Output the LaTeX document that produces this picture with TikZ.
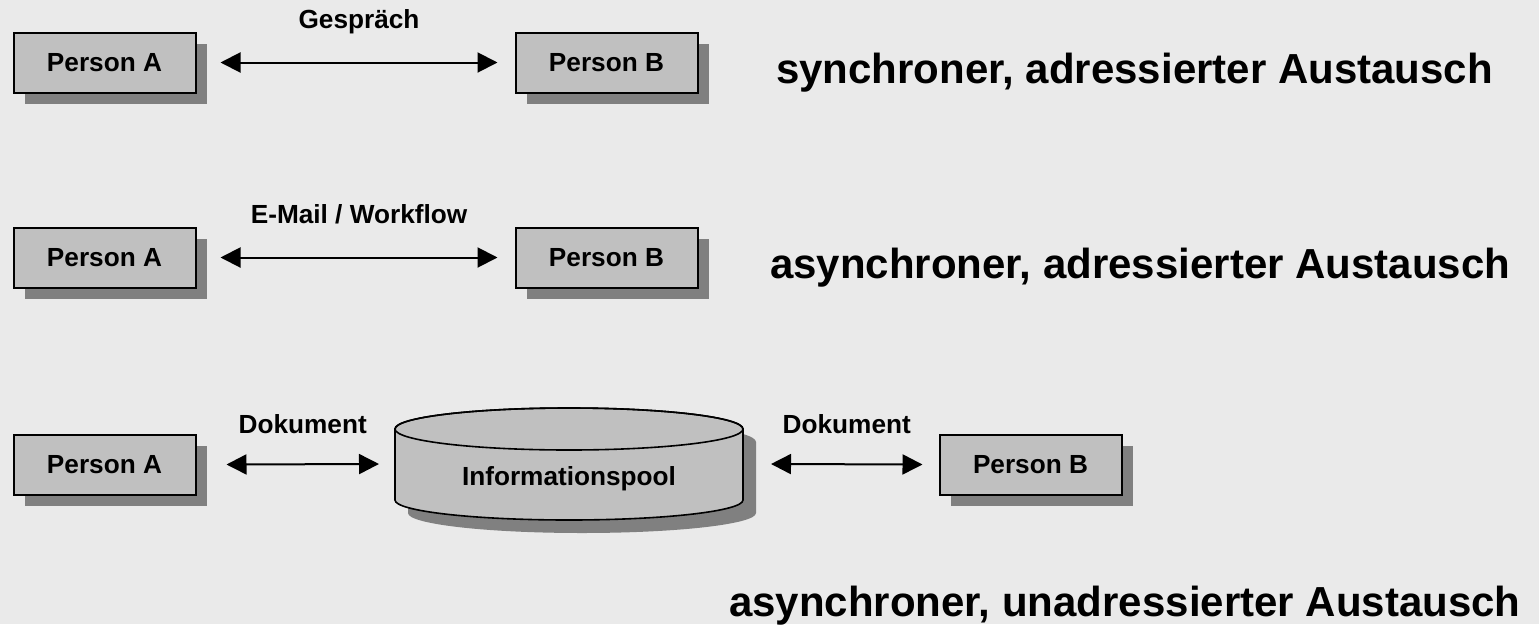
\documentclass[tikz,border=0pt]{standalone}
\usepackage{fontspec}
\setmainfont{Liberation Sans}
\usetikzlibrary{arrows.meta,shadows}
\definecolor{bggray}{HTML}{EAEAEA}
\definecolor{boxgray}{HTML}{C0C0C0}
\definecolor{shadowgray}{HTML}{808080}
\tikzstyle{person}=[rectangle,draw=black,line width=2pt,fill=boxgray,minimum width=182pt,minimum height=60pt,inner sep=0pt,font=\bfseries\fontsize{26.2}{30}\selectfont,drop shadow={shadow xshift=11pt,shadow yshift=-11pt,fill=shadowgray,opacity=1}]
\tikzstyle{link}=[draw,line width=2pt,{Triangle[length=20pt,width=20pt]}-{Triangle[length=20pt,width=20pt]}]
\tikzstyle{lbl}=[font=\bfseries\fontsize{26.2}{30}\selectfont,anchor=base,inner sep=0pt]
\tikzstyle{kind}=[font=\bfseries\fontsize{42}{48}\selectfont,anchor=base west,inner sep=0pt]

\begin{document}
\begin{tikzpicture}[x=1pt,y=-1pt]
    % Background
    \fill[bggray] (0,0) rectangle (1539,624);
    \useasboundingbox (0,0) rectangle (1539,624);
    % First we draw the persons
    \foreach \pos/\name/\txt in {{(104.5,62.5)/a1/Person A}, {(606.5,62.5)/b1/Person B},
        {(104.5,257.5)/a2/Person A}, {(606.5,257.5)/b2/Person B},
        {(104.5,464.5)/a3/Person A}, {(1030.5,464.5)/b3/Person B}}
        \node[person] (\name) at \pos {\txt};
    % Information pool as a cylinder with shadow
    \fill[shadowgray] (408,442) -- (408,513) arc[start angle=180,end angle=0,x radius=174,y radius=20]
        -- (756,442) arc[start angle=0,end angle=-180,x radius=174,y radius=21] -- cycle;
    \filldraw[fill=boxgray,line width=1.6pt] (395,429) -- (395,500) arc[start angle=180,end angle=0,x radius=174,y radius=20]
        -- (743,429) arc[start angle=0,end angle=-180,x radius=174,y radius=21] -- cycle;
    \draw[line width=1.6pt] (569,429) ellipse [x radius=174,y radius=21];
    \node[lbl,anchor=center] (pool) at (569,479) {Informationspool};
    \coordinate (poolW) at (395,464);
    \coordinate (poolE) at (743,464);
    % Connect persons with arrows
    \path[link] ([xshift=24pt]a1.east) -- node[lbl,midway,yshift=34pt] {Gespräch} ([xshift=-17pt]b1.west);
    \path[link] ([xshift=24pt]a2.east) -- node[lbl,midway,yshift=34pt] {E-Mail / Workflow} ([xshift=-17pt]b2.west);
    \path[link] ([xshift=30pt]a3.east) -- node[lbl,midway,yshift=31pt] {Dokument} ([xshift=-16pt]poolW);
    \path[link] ([xshift=28pt]poolE) -- node[lbl,midway,yshift=31pt] {Dokument} ([xshift=-16pt]b3.west);
    % Kinds of exchange
    \node[kind] (k1) at (776,83) {synchroner, adressierter Austausch};
    \node[kind] (k2) at (770,278) {asynchroner, adressierter Austausch};
    \node[kind] (k3) at (729,616) {asynchroner, unadressierter Austausch};
\end{tikzpicture}
\end{document}
